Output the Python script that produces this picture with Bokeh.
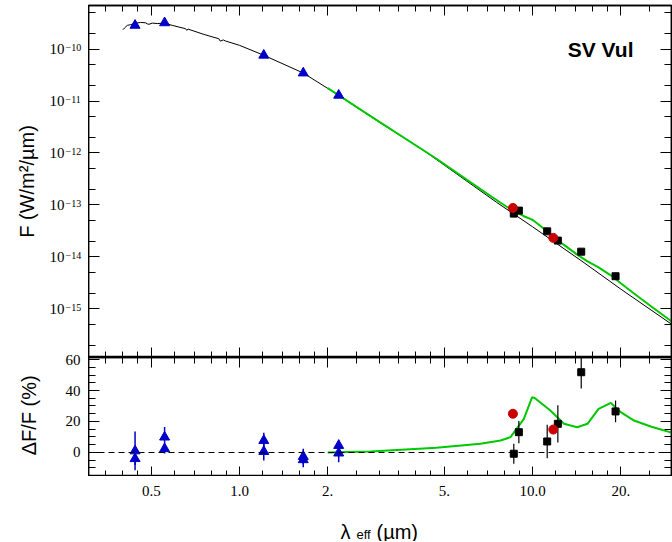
from bokeh.plotting import figure
from bokeh.models import (LogAxis, LinearAxis, FixedTicker, Span, Label, LabelSet,
                          Range1d, ColumnDataSource, LinearScale)
from bokeh.layouts import column, row
from bokeh.embed import file_html
from bokeh.resources import INLINE

# ---------------- data ----------------
# photospheric model spectrum (black line)
spec_lam = [0.400, 0.405, 0.414, 0.425, 0.438, 0.459, 0.478, 0.485, 0.491, 0.504,
            0.524, 0.555, 0.589, 0.654, 0.660, 0.668, 0.755, 0.850, 0.860, 0.880,
            0.896, 1.00, 1.21, 1.65, 2.18, 3.00, 4.24, 7.54, 10.0, 15.0, 20.0, 29.9]
spec_flux = [2.36e-10, 2.55e-10, 2.86e-10, 2.95e-10, 3.10e-10, 3.26e-10, 3.20e-10,
             3.05e-10, 3.00e-10, 3.16e-10, 3.10e-10, 3.16e-10, 2.86e-10, 2.47e-10,
             2.30e-10, 2.42e-10, 1.92e-10, 1.58e-10, 1.42e-10, 1.50e-10, 1.43e-10,
             1.18e-10, 7.6e-11, 3.46e-11, 1.29e-11, 3.9e-12, 1.13e-12, 1.12e-13,
             3.8e-14, 7.7e-15, 2.4e-15, 5.0e-16]

# model with dust (green line)
dust_lam = [2.0, 2.8, 4.7, 6.64, 7.78, 8.41, 9.34, 9.97, 10.2, 11.5, 12.8, 14.2,
            15.4, 16.8, 18.5, 20.0, 22.2, 25.3, 30.0]
dust_flux = [1.77e-11, 5.14e-12, 7.73e-13, 2.02e-13, 1.10e-13, 8.28e-14, 6.06e-14,
             5.22e-14, 4.75e-14, 2.78e-14, 1.70e-14, 1.107e-14, 8.19e-15, 6.28e-15,
             4.42e-15, 3.10e-15, 1.97e-15, 1.135e-15, 5.59e-16]
dust_dev = [0.0, 0.6, 3.0, 5.6, 7.7, 9.9, 21.7, 35.7, 35.0, 27.1, 18.5, 16.3,
            18.5, 28.2, 32.0, 26.0, 20.6, 16.8, 12.7]

# optical / near-IR photometry (blue triangles): B V J H K
phot_lam = [0.44, 0.555, 1.21, 1.65, 2.18]
phot_flux = [2.86e-10, 3.20e-10, 7.6e-11, 3.46e-11, 1.29e-11]
phot_dev_a = [1.0, 9.9, 7.7, -2.6, 4.5]
phot_err_a = [12.5, 6.5, 5.0, 5.0, 3.7]
phot_dev_b = [-4.0, 2.4, 0.6, -4.7, -0.4]
phot_err_b = [4.0, 3.0, 5.8, 4.8, 5.9]

# mid-IR photometry (black squares)
mir_lam = [8.63, 8.98, 11.22, 12.2, 14.66, 19.2]
mir_flux = [6.8e-14, 7.77e-14, 3.1e-14, 2.06e-14, 1.26e-14, 4.24e-15]
mir_dev = [-0.8, 13.1, 7.1, 18.5, 51.8, 26.5]
mir_err = [6.4, 7.2, 10.8, 12.0, 10.5, 7.0]

# mid-IR photometry (red circles)
red_lam = [8.57, 11.77]
red_flux = [8.75e-14, 2.32e-14]
red_dev = [25.0, 14.8]

# ticks
x_major = [0.5, 1.0, 2.0, 5.0, 10.0, 20.0]
x_major_labels = ["0.5", "1.0", "2.", "5.", "10.0", "20."]
x_minor = [0.35, 0.4, 0.45, 0.6, 0.7, 0.8, 0.9, 1.2, 1.4, 1.6, 1.8, 2.5, 3.0, 3.5,
           4.0, 4.5, 6.0, 7.0, 8.0, 9.0, 12.0, 14.0, 16.0, 18.0, 25.0, 30.0]
y_top_major = [1e-15, 1e-14, 1e-13, 1e-12, 1e-11, 1e-10]
y_top_exp = ["\u221215", "\u221214", "\u221213", "\u221212", "\u221211", "\u221210"]
y_top_minor = [2e-16, 5e-16, 2e-15, 5e-15, 2e-14, 5e-14, 2e-13, 5e-13,
               2e-12, 5e-12, 2e-11, 5e-11, 2e-10, 5e-10]
y_bot_major = [0, 20, 40, 60]
y_bot_labels = ["0", "20", "40", "60"]
y_bot_minor = [-15, -10, -5, 5, 10, 15, 25, 30, 35, 45, 50, 55]

# ---------------- geometry / styling ----------------
FONT = "Liberation Sans"
LEFT = 88                # width of the left label strip
MAIN_W = 584             # width of the plotting panels (incl. 1px right border)
TOP_PAD = 5
H_TOP = 357
H_BOT = 119
H_XSTRIP = 65
GREEN = "#00c800"
BLUE = "#0000c8"
RED = "#c80000"

x_range = Range1d(0.3052, 29.8)
top_y = Range1d(1.156e-16, 6.9e-10)
bot_y = Range1d(-15.5, 61.3)


def make_axis(cls, ticker, tick_in=10, minor_in=6):
    ax = cls(ticker=ticker, major_tick_in=tick_in, major_tick_out=0,
             minor_tick_in=minor_in, minor_tick_out=0,
             axis_line_color="black", axis_line_width=1.5,
             major_tick_line_color="black", minor_tick_line_color="black",
             major_tick_line_width=1, minor_tick_line_width=1,
             major_label_text_font_size="0px", major_label_text_color=None,
             major_label_standoff=0)
    return ax


def base_fig(width, height, x_rng, y_rng, x_type, y_type, top, bottom, left, right):
    p = figure(width=width, height=height, x_range=x_rng, y_range=y_rng,
               x_axis_type=x_type, y_axis_type=y_type,
               x_axis_location=None, y_axis_location=None,
               output_backend="svg", toolbar_location=None,
               min_border_left=left, min_border_right=right, min_border_top=top,
               min_border_bottom=bottom)
    p.grid.visible = False
    p.outline_line_color = None
    p.background_fill_color = "white"
    p.border_fill_color = "white"
    return p


def txt(**kw):
    base = dict(text_font=FONT, text_color="black", text_baseline="alphabetic",
                text_align="left")
    base.update(kw)
    return base


xt = lambda: FixedTicker(ticks=x_major, minor_ticks=x_minor)
yt_top = lambda: FixedTicker(ticks=y_top_major, minor_ticks=y_top_minor)
yt_bot = lambda: FixedTicker(ticks=y_bot_major, minor_ticks=y_bot_minor)

# ---------------- top panel ----------------
top = base_fig(MAIN_W, H_TOP, x_range, top_y, "log", "log", TOP_PAD, 0, 0, 1)
top.outline_line_color = "black"
top.outline_line_width = 1.5
top.add_layout(make_axis(LogAxis, yt_top(), 11, 7), "left")
top.add_layout(make_axis(LogAxis, yt_top(), 11, 7), "right")
top.add_layout(make_axis(LogAxis, xt()), "above")
top.add_layout(make_axis(LogAxis, xt()), "below")

top.line(spec_lam, spec_flux, line_color="black", line_width=1)
top.line(dust_lam, dust_flux, line_color=GREEN, line_width=2)
top.scatter(mir_lam, mir_flux, marker="square", size=7, color="black")
top.scatter(red_lam, red_flux, marker="circle", size=9, color=RED)
top.scatter(phot_lam, phot_flux, marker="triangle", size=10, color=BLUE)

top.add_layout(Label(x=29.8, y=6.9e-10, x_offset=-38, y_offset=-44, text="SV Vul",
                     **txt(text_font_size="21px", text_font_style="bold",
                           text_align="right")))

# ---------------- bottom panel ----------------
bot = base_fig(MAIN_W, H_BOT, x_range, bot_y, "log", "linear", 0, 0, 0, 1)
bot.outline_line_color = "black"
bot.outline_line_width = 1.5
bot.add_layout(make_axis(LinearAxis, yt_bot(), 11, 7), "left")
bot.add_layout(make_axis(LinearAxis, yt_bot(), 11, 7), "right")
bot.add_layout(make_axis(LogAxis, xt()), "above")
bot.add_layout(make_axis(LogAxis, xt()), "below")

bot.add_layout(Span(location=0, dimension="width", line_color="black",
                    line_width=1.2, line_dash="6 4"))
bot.line(dust_lam, dust_dev, line_color=GREEN, line_width=2)
bot.segment(phot_lam, [v - e for v, e in zip(phot_dev_a, phot_err_a)],
            phot_lam, [v + e for v, e in zip(phot_dev_a, phot_err_a)],
            line_color=BLUE, line_width=1.5)
bot.segment(phot_lam, [v - e for v, e in zip(phot_dev_b, phot_err_b)],
            phot_lam, [v + e for v, e in zip(phot_dev_b, phot_err_b)],
            line_color=BLUE, line_width=1.5)
bot.segment(mir_lam, [v - e for v, e in zip(mir_dev, mir_err)],
            mir_lam, [v + e for v, e in zip(mir_dev, mir_err)],
            line_color="black", line_width=1.2)
bot.scatter(phot_lam, phot_dev_a, marker="triangle", size=10, color=BLUE)
bot.scatter(phot_lam, phot_dev_b, marker="triangle", size=10, color=BLUE)
bot.scatter(mir_lam, mir_dev, marker="square", size=7, color="black")
bot.scatter(red_lam, red_dev, marker="circle", size=9, color=RED)

# ---------------- left strip: y tick labels and y titles ----------------
# Its ranges are the panels' ranges extended over the whole strip height,
# so the texts sit on the same scale positions as the panels' ticks.
PX_PER_DEC = (H_TOP - TOP_PAD) / (10 ** 0 * (
    __import__("math").log10(top_y.end) - __import__("math").log10(top_y.start)))
import math
lt0, lt1 = math.log10(top_y.start), math.log10(top_y.end)
dec_px = (H_TOP - TOP_PAD) / (lt1 - lt0)
strip_log = Range1d(10 ** (lt0 - H_BOT / dec_px), 10 ** (lt1 + TOP_PAD / dec_px))
pct_px = H_BOT / (bot_y.end - bot_y.start)
strip_pct = Range1d(bot_y.start, bot_y.end + H_TOP / pct_px)

strip = base_fig(LEFT, H_TOP + H_BOT, Range1d(0, LEFT), strip_log, "linear", "log",
                 0, 0, 0, 0)
strip.extra_y_ranges = {"pct": strip_pct}
strip.extra_y_scales = {"pct": LinearScale()}

src_top = ColumnDataSource(dict(y=y_top_major, base=["10"] * len(y_top_major),
                                exp=y_top_exp))
strip.add_layout(LabelSet(x=64, y="y", text="base", source=src_top, y_offset=-5,
                          **txt(text_font_size="15px", text_align="right")))
strip.add_layout(LabelSet(x=65, y="y", text="exp", source=src_top, y_offset=-2,
                          **txt(text_font_size="10px")))
src_bot = ColumnDataSource(dict(y=y_bot_major, t=y_bot_labels))
strip.add_layout(LabelSet(x=80, y="y", text="t", source=src_bot, y_range_name="pct",
                          **txt(text_font_size="15px", text_align="right",
                                text_baseline="middle")))
strip.add_layout(Label(x=26, y=10 ** ((lt0 + lt1) / 2), angle=math.pi / 2,
                       text="F (W/m\u00b2/\u00b5m)",
                       **txt(text_font_size="20px", text_align="center")))
strip.add_layout(Label(x=28, y=24.0, y_range_name="pct", angle=math.pi / 2,
                       text="\u0394F/F (%)",
                       **txt(text_font_size="20px", text_align="center")))

# ---------------- bottom strip: x tick labels and x title ----------------
xstrip = base_fig(LEFT + MAIN_W, H_XSTRIP, x_range, Range1d(0, H_XSTRIP), "log",
                  "linear", 0, 0, LEFT, 1)
src_x = ColumnDataSource(dict(x=x_major, t=x_major_labels))
strip_y_ticklab = H_XSTRIP - 14
xstrip.add_layout(LabelSet(x="x", y=strip_y_ticklab, text="t", source=src_x,
                           **txt(text_font_size="15px", text_align="center",
                                 text_baseline="middle")))
title_base = H_XSTRIP - 55
xstrip.add_layout(Label(x=x_range.start, y=title_base, x_offset=252, text="\u03bb",
                        **txt(text_font_size="20px")))
xstrip.add_layout(Label(x=x_range.start, y=title_base - 3, x_offset=268, text="eff",
                        **txt(text_font_size="13px")))
xstrip.add_layout(Label(x=x_range.start, y=title_base, x_offset=288, text="(\u00b5m)",
                        **txt(text_font_size="20px")))

layout = column(row(strip, column(top, bot, spacing=0), spacing=0), xstrip, spacing=0)
open("out.html", "w").write(file_html(layout, INLINE))
